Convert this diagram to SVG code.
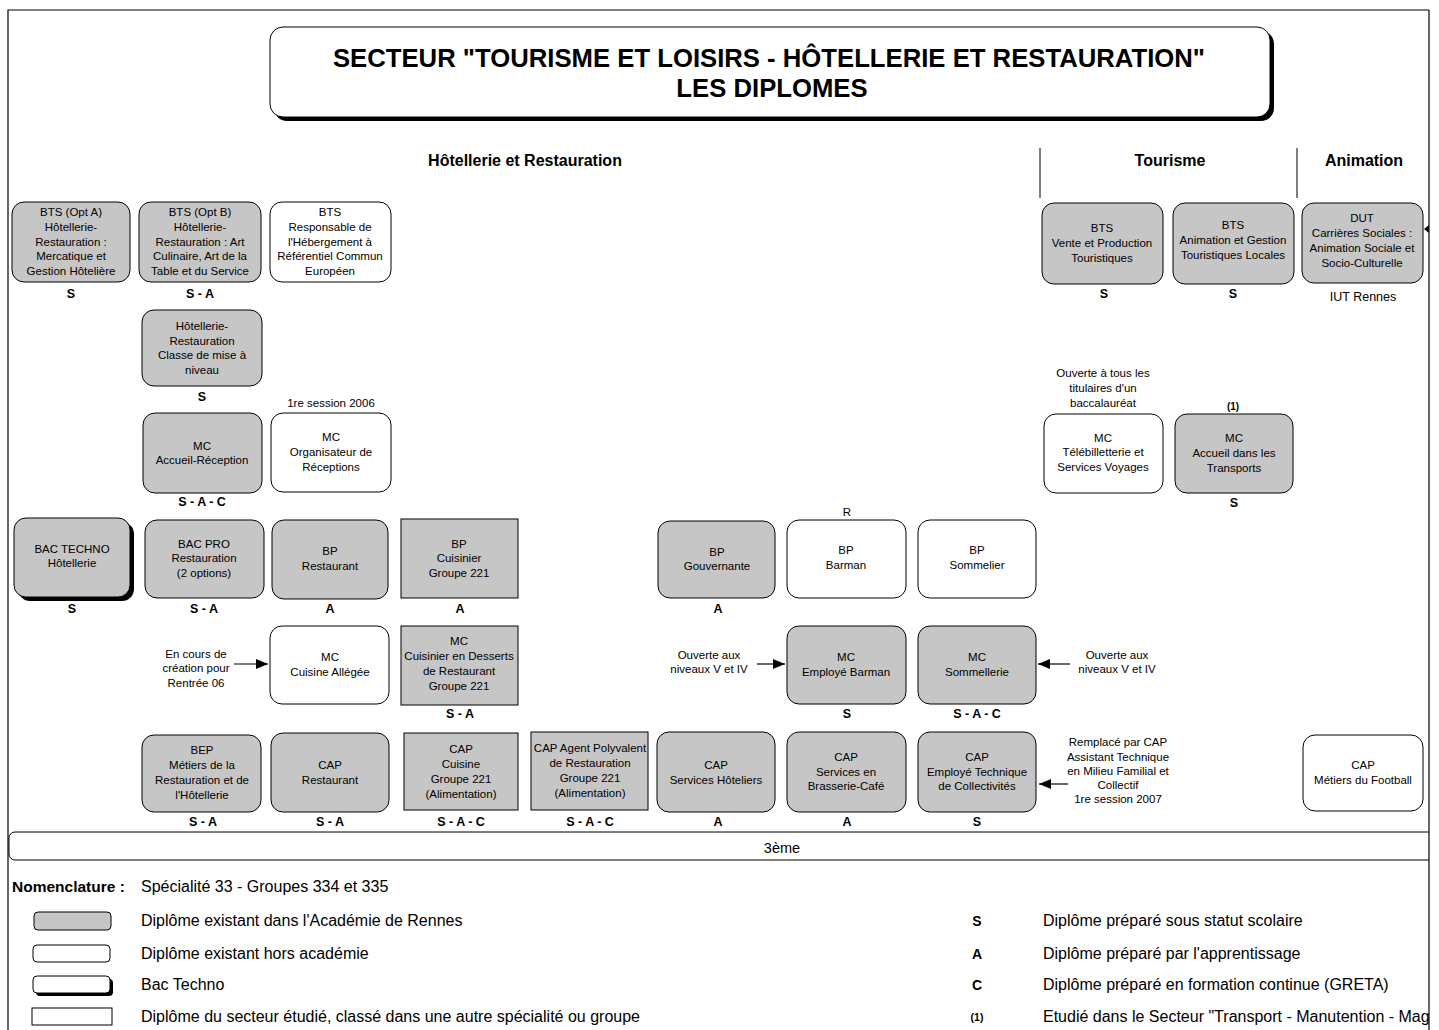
<svg xmlns="http://www.w3.org/2000/svg" width="1439" height="1030" viewBox="0 0 1439 1030">
<defs>
<style>
text{font-family:"Liberation Sans",Arial,sans-serif;fill:#000}
.t{font-size:11.5px;text-anchor:middle}
.l{font-size:12.5px;font-weight:bold;text-anchor:middle}
.h{font-size:16px;font-weight:bold;text-anchor:middle}
.lg{font-size:16px}
.g{fill:#c6c6c6;stroke:#000;stroke-width:1}
.w{fill:#fff;stroke:#000;stroke-width:1}
.sh{fill:#000}
.c{stroke:#000;stroke-width:1.2;fill:none}
</style>
<marker id="ah" markerUnits="userSpaceOnUse" markerWidth="12" markerHeight="10" refX="12" refY="5" orient="auto">
<path d="M0,0 L12,5 L0,10 Z" fill="#000"/>
</marker>
<clipPath id="page"><rect x="0" y="0" width="1429" height="1030"/></clipPath>
</defs>
<rect x="0" y="0" width="1439" height="1030" fill="#fff"/>
<!-- frame -->
<path d="M8,1030 V10 H1429" fill="none" stroke="#000" stroke-width="1.2"/>
<!-- title -->
<g id="title">
<rect x="274" y="31" width="1000" height="90" rx="13" class="sh"/>
<rect x="270" y="27" width="1000" height="90" rx="13" class="w"/>
<text x="769" y="67" style="font-size:25.7px;font-weight:bold;text-anchor:middle">SECTEUR "TOURISME ET LOISIRS - HÔTELLERIE ET RESTAURATION"</text>
<text x="772" y="97" style="font-size:25.7px;font-weight:bold;text-anchor:middle">LES DIPLOMES</text>
</g>
<!-- section headers -->
<g id="sections">
<text x="525" y="166" class="h">Hôtellerie et Restauration</text>
<text x="1170" y="166" class="h">Tourisme</text>
<text x="1364" y="166" class="h">Animation</text>
<line x1="1040" y1="148" x2="1040" y2="198" stroke="#000"/>
<line x1="1297" y1="148" x2="1297" y2="198" stroke="#000"/>
</g>
<!-- connectors -->
<g id="connectors">
<line x1="234" y1="664" x2="268" y2="664" class="c" marker-end="url(#ah)"/>
<line x1="757" y1="664" x2="785" y2="664" class="c" marker-end="url(#ah)"/>
<line x1="1070" y1="664" x2="1038" y2="664" class="c" marker-end="url(#ah)"/>
<line x1="1068" y1="784" x2="1039" y2="784" class="c" marker-end="url(#ah)"/>
<path d="M1429,225 L1424,229 L1429,233 Z" fill="#000"/>
</g>
<!-- nodes -->
<g id="bts-opt-a">
<rect x="12" y="202" width="118" height="80" rx="12" class="g"/>
<text class="t"><tspan x="71" y="216">BTS (Opt A)</tspan><tspan x="71" y="231">Hôtellerie-</tspan><tspan x="71" y="246">Restauration :</tspan><tspan x="71" y="260">Mercatique et</tspan><tspan x="71" y="275">Gestion Hôtelière</tspan></text>
<text x="71" y="298" class="l">S</text>
</g>
<g id="bts-opt-b">
<rect x="139" y="202" width="122" height="80" rx="12" class="g"/>
<text class="t"><tspan x="200" y="216">BTS (Opt B)</tspan><tspan x="200" y="231">Hôtellerie-</tspan><tspan x="200" y="246">Restauration : Art</tspan><tspan x="200" y="260">Culinaire, Art de la</tspan><tspan x="200" y="275">Table et du Service</tspan></text>
<text x="200" y="298" class="l">S - A</text>
</g>
<g id="bts-responsable">
<rect x="270" y="202" width="121" height="80" rx="12" class="w"/>
<text class="t"><tspan x="330" y="216">BTS</tspan><tspan x="330" y="231">Responsable de</tspan><tspan x="330" y="246">l'Hébergement à</tspan><tspan x="330" y="260">Référentiel Commun</tspan><tspan x="330" y="275">Européen</tspan></text>
</g>
<g id="hr-mise-a-niveau">
<rect x="142" y="310" width="120" height="76" rx="12" class="g"/>
<text class="t"><tspan x="202" y="330">Hôtellerie-</tspan><tspan x="202" y="345">Restauration</tspan><tspan x="202" y="359">Classe de mise à</tspan><tspan x="202" y="374">niveau</tspan></text>
<text x="202" y="401" class="l">S</text>
</g>
<g id="mc-accueil-reception">
<rect x="143" y="413" width="119" height="80" rx="12" class="g"/>
<text class="t"><tspan x="202" y="450">MC</tspan><tspan x="202" y="464">Accueil-Réception</tspan></text>
<text x="202" y="506" class="l">S - A - C</text>
</g>
<g id="mc-organisateur">
<text x="331" y="407" class="t">1re session 2006</text>
<rect x="271" y="413" width="120" height="79" rx="12" class="w"/>
<text class="t"><tspan x="331" y="441">MC</tspan><tspan x="331" y="456">Organisateur de</tspan><tspan x="331" y="471">Réceptions</tspan></text>
</g>
<g id="bts-vente">
<rect x="1042" y="203" width="121" height="81" rx="12" class="g"/>
<text class="t"><tspan x="1102" y="232">BTS</tspan><tspan x="1102" y="247">Vente et Production</tspan><tspan x="1102" y="262">Touristiques</tspan></text>
<text x="1104" y="298" class="l">S</text>
</g>
<g id="bts-animation">
<rect x="1173" y="203" width="121" height="81" rx="12" class="g"/>
<text class="t"><tspan x="1233" y="229">BTS</tspan><tspan x="1233" y="244">Animation et Gestion</tspan><tspan x="1233" y="259">Touristiques Locales</tspan></text>
<text x="1233" y="298" class="l">S</text>
</g>
<g id="dut">
<rect x="1302" y="203" width="121" height="80" rx="12" class="g"/>
<text class="t"><tspan x="1362" y="222">DUT</tspan><tspan x="1362" y="237">Carrières Sociales :</tspan><tspan x="1362" y="252">Animation Sociale et</tspan><tspan x="1362" y="267">Socio-Culturelle</tspan></text>
<text x="1363" y="301" style="font-size:12.5px;text-anchor:middle">IUT Rennes</text>
</g>
<g id="mc-telebilletterie">
<text class="t"><tspan x="1103" y="377">Ouverte à tous les</tspan><tspan x="1103" y="392">titulaires d'un</tspan><tspan x="1103" y="407">baccalauréat</tspan></text>
<rect x="1044" y="414" width="119" height="79" rx="12" class="w"/>
<text class="t"><tspan x="1103" y="442">MC</tspan><tspan x="1103" y="456">Télébilletterie et</tspan><tspan x="1103" y="471">Services Voyages</tspan></text>
</g>
<g id="mc-transports">
<text x="1233" y="410" class="l" style="font-size:10px">(1)</text>
<rect x="1175" y="414" width="118" height="79" rx="12" class="g"/>
<text class="t"><tspan x="1234" y="442">MC</tspan><tspan x="1234" y="457">Accueil dans les</tspan><tspan x="1234" y="472">Transports</tspan></text>
<text x="1234" y="507" class="l">S</text>
</g>
<g id="bac-techno">
<rect x="18" y="522" width="116" height="79" rx="12" class="sh"/>
<rect x="14" y="518" width="116" height="79" rx="12" class="g"/>
<text class="t"><tspan x="72" y="553">BAC TECHNO</tspan><tspan x="72" y="567">Hôtellerie</tspan></text>
<text x="72" y="613" class="l">S</text>
</g>
<g id="bac-pro">
<rect x="145" y="520" width="119" height="78" rx="12" class="g"/>
<text class="t"><tspan x="204" y="548">BAC PRO</tspan><tspan x="204" y="562">Restauration</tspan><tspan x="204" y="577">(2 options)</tspan></text>
<text x="204" y="613" class="l">S - A</text>
</g>
<g id="bp-restaurant">
<rect x="272" y="520" width="116" height="79" rx="12" class="g"/>
<text class="t"><tspan x="330" y="555">BP</tspan><tspan x="330" y="570">Restaurant</tspan></text>
<text x="330" y="613" class="l">A</text>
</g>
<g id="bp-cuisinier">
<rect x="401" y="519" width="117" height="79" class="g"/>
<text class="t"><tspan x="459" y="548">BP</tspan><tspan x="459" y="562">Cuisinier</tspan><tspan x="459" y="577">Groupe 221</tspan></text>
<text x="460" y="613" class="l">A</text>
</g>
<g id="bp-gouvernante">
<rect x="658" y="521" width="117" height="77" rx="12" class="g"/>
<text class="t"><tspan x="717" y="556">BP</tspan><tspan x="717" y="570">Gouvernante</tspan></text>
<text x="718" y="613" class="l">A</text>
</g>
<g id="bp-barman">
<text x="847" y="516" class="t">R</text>
<rect x="787" y="520" width="119" height="78" rx="12" class="w"/>
<text class="t"><tspan x="846" y="554">BP</tspan><tspan x="846" y="569">Barman</tspan></text>
</g>
<g id="bp-sommelier">
<rect x="918" y="520" width="118" height="78" rx="12" class="w"/>
<text class="t"><tspan x="977" y="554">BP</tspan><tspan x="977" y="569">Sommelier</tspan></text>
</g>
<g id="mc-cuisine-allegee">
<text class="t"><tspan x="196" y="658">En cours de</tspan><tspan x="196" y="672">création pour</tspan><tspan x="196" y="687">Rentrée 06</tspan></text>
<rect x="270" y="626" width="119" height="78" rx="12" class="w"/>
<text class="t"><tspan x="330" y="661">MC</tspan><tspan x="330" y="676">Cuisine Allégée</tspan></text>
</g>
<g id="mc-desserts">
<rect x="401" y="626" width="117" height="79" class="g"/>
<text class="t"><tspan x="459" y="645">MC</tspan><tspan x="459" y="660">Cuisinier en Desserts</tspan><tspan x="459" y="675">de Restaurant</tspan><tspan x="459" y="690">Groupe 221</tspan></text>
<text x="460" y="718" class="l">S - A</text>
</g>
<g id="mc-employe-barman">
<text class="t"><tspan x="709" y="659">Ouverte aux</tspan><tspan x="709" y="673">niveaux V et IV</tspan></text>
<rect x="787" y="626" width="119" height="78" rx="12" class="g"/>
<text class="t"><tspan x="846" y="661">MC</tspan><tspan x="846" y="676">Employé Barman</tspan></text>
<text x="847" y="718" class="l">S</text>
</g>
<g id="mc-sommellerie">
<rect x="918" y="626" width="118" height="78" rx="12" class="g"/>
<text class="t"><tspan x="977" y="661">MC</tspan><tspan x="977" y="676">Sommellerie</tspan></text>
<text x="977" y="718" class="l">S - A - C</text>
<text class="t"><tspan x="1117" y="659">Ouverte aux</tspan><tspan x="1117" y="673">niveaux V et IV</tspan></text>
</g>
<g id="bep">
<rect x="142" y="735" width="119" height="77" rx="12" class="g"/>
<text class="t"><tspan x="202" y="754">BEP</tspan><tspan x="202" y="769">Métiers de la</tspan><tspan x="202" y="784">Restauration et de</tspan><tspan x="202" y="799">l'Hôtellerie</tspan></text>
<text x="203" y="826" class="l">S - A</text>
</g>
<g id="cap-restaurant">
<rect x="271" y="733" width="118" height="79" rx="12" class="g"/>
<text class="t"><tspan x="330" y="769">CAP</tspan><tspan x="330" y="784">Restaurant</tspan></text>
<text x="330" y="826" class="l">S - A</text>
</g>
<g id="cap-cuisine">
<rect x="404" y="733" width="114" height="77" class="g"/>
<text class="t"><tspan x="461" y="753">CAP</tspan><tspan x="461" y="768">Cuisine</tspan><tspan x="461" y="783">Groupe 221</tspan><tspan x="461" y="798">(Alimentation)</tspan></text>
<text x="461" y="826" class="l">S - A - C</text>
</g>
<g id="cap-agent-polyvalent">
<rect x="531" y="732" width="117" height="78" class="g"/>
<text class="t"><tspan x="590" y="752">CAP Agent Polyvalent</tspan><tspan x="590" y="767">de Restauration</tspan><tspan x="590" y="782">Groupe 221</tspan><tspan x="590" y="797">(Alimentation)</tspan></text>
<text x="590" y="826" class="l">S - A - C</text>
</g>
<g id="cap-services-hoteliers">
<rect x="657" y="732" width="118" height="80" rx="12" class="g"/>
<text class="t"><tspan x="716" y="769">CAP</tspan><tspan x="716" y="784">Services Hôteliers</tspan></text>
<text x="718" y="826" class="l">A</text>
</g>
<g id="cap-brasserie">
<rect x="787" y="732" width="119" height="80" rx="12" class="g"/>
<text class="t"><tspan x="846" y="761">CAP</tspan><tspan x="846" y="776">Services en</tspan><tspan x="846" y="790">Brasserie-Café</tspan></text>
<text x="847" y="826" class="l">A</text>
</g>
<g id="cap-employe-technique">
<rect x="918" y="732" width="118" height="80" rx="12" class="g"/>
<text class="t"><tspan x="977" y="761">CAP</tspan><tspan x="977" y="776">Employé Technique</tspan><tspan x="977" y="790">de Collectivités</tspan></text>
<text x="977" y="826" class="l">S</text>
<text class="t"><tspan x="1118" y="746">Remplacé par CAP</tspan><tspan x="1118" y="761">Assistant Technique</tspan><tspan x="1118" y="775">en Milieu Familial et</tspan><tspan x="1118" y="789">Collectif</tspan><tspan x="1118" y="803">1re session 2007</tspan></text>
</g>
<g id="cap-football">
<rect x="1303" y="735" width="120" height="76" rx="12" class="w"/>
<text class="t"><tspan x="1363" y="769">CAP</tspan><tspan x="1363" y="784">Métiers du Football</tspan></text>
</g>
<g id="troisieme" clip-path="url(#page)">
<rect x="9" y="832" width="1445" height="28" rx="6" class="w"/>
<text x="782" y="853" style="font-size:14.5px;text-anchor:middle">3ème</text>
</g>
<!-- legend -->
<g id="legend" clip-path="url(#page)">
<text x="12" y="892" style="font-size:15.5px;font-weight:bold">Nomenclature :</text>
<text x="141" y="892" class="lg">Spécialité 33 - Groupes 334 et 335</text>
<rect x="34" y="912" width="77" height="18" rx="4" class="g"/>
<text x="141" y="926" class="lg">Diplôme existant dans l'Académie de Rennes</text>
<rect x="33" y="945" width="77" height="17" rx="4" class="w"/>
<text x="141" y="959" class="lg">Diplôme existant hors académie</text>
<rect x="36" y="979" width="77" height="17" rx="4" class="sh"/>
<rect x="33" y="976" width="77" height="17" rx="4" class="w"/>
<text x="141" y="990" class="lg">Bac Techno</text>
<rect x="32" y="1008" width="80" height="17" class="w"/>
<text x="141" y="1022" class="lg">Diplôme du secteur étudié, classé dans une autre spécialité ou groupe</text>
<text x="977" y="926" class="l" style="font-size:14px">S</text>
<text x="1043" y="926" class="lg">Diplôme préparé sous statut scolaire</text>
<text x="977" y="959" class="l" style="font-size:14px">A</text>
<text x="1043" y="959" class="lg">Diplôme préparé par l'apprentissage</text>
<text x="977" y="990" class="l" style="font-size:14px">C</text>
<text x="1043" y="990" class="lg">Diplôme préparé en formation continue (GRETA)</text>
<text x="977" y="1021" class="l" style="font-size:10.5px">(1)</text>
<text x="1043" y="1022" class="lg">Etudié dans le Secteur "Transport - Manutention - Mag</text>
</g>
<line x1="1429" y1="10" x2="1429" y2="1030" stroke="#000" stroke-width="1.2"/>
</svg>
